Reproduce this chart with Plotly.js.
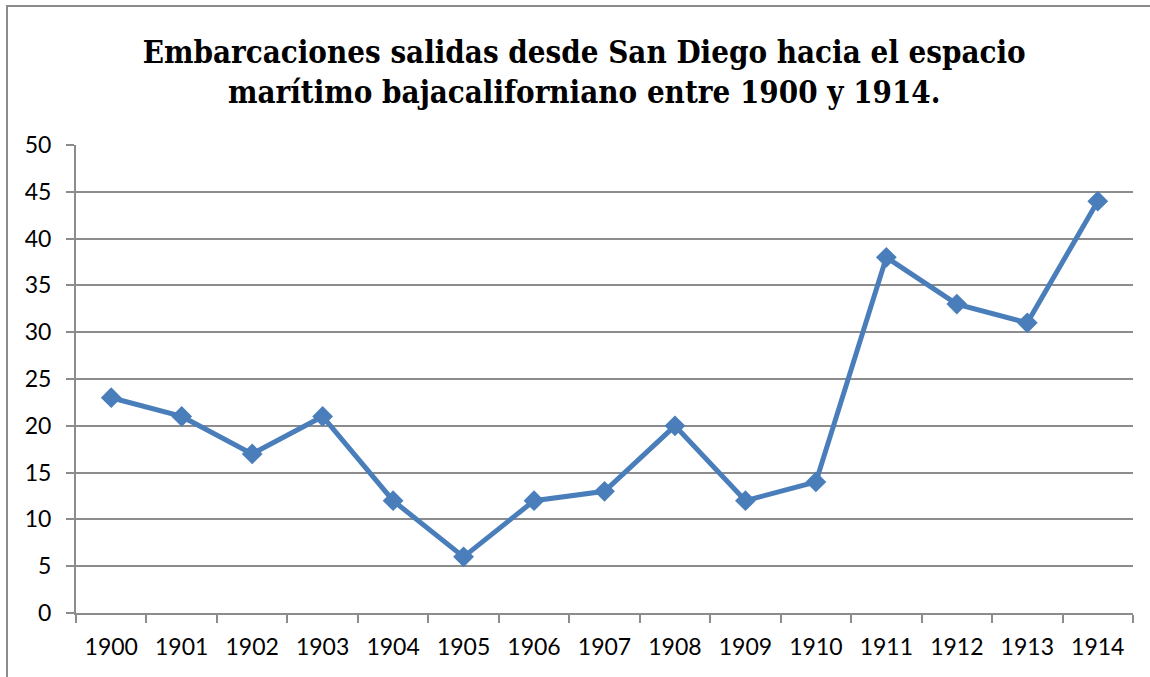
<!DOCTYPE html>
<html>
<head>
<meta charset="utf-8">
<script src="https://cdn.plot.ly/plotly-3.0.1.min.js"></script>
<style>
  html, body { margin: 0; padding: 0; background: #ffffff; overflow: hidden; }
  #frame { position: absolute; left: 6px; top: 5px; width: 1300px; height: 800px; border: 2px solid #8c8c8c; box-sizing: border-box; }
  #chart { position: absolute; left: 0; top: 0; width: 1150px; height: 677px; }
</style>
</head>
<body>
<div id="frame"></div>
<div id="chart"></div>
<script>
const years = ["1900","1901","1902","1903","1904","1905","1906","1907","1908","1909","1910","1911","1912","1913","1914"];
const embarcaciones = [23, 21, 17, 21, 12, 6, 12, 13, 20, 12, 14, 38, 33, 31, 44];
const yTicks = [0, 5, 10, 15, 20, 25, 30, 35, 40, 45, 50];
const titleText = "<b>Embarcaciones salidas desde San Diego hacia el espacio<br>marítimo bajacaliforniano entre 1900 y 1914.</b>";

const trace = {
  type: "scatter",
  mode: "lines+markers",
  x: years,
  y: embarcaciones,
  line: { color: "#4A7EBB", width: 5 },
  marker: { symbol: "diamond", size: 16, color: "#4A7EBB" },
  hoverinfo: "x+y"
};

const layout = {
  width: 1150,
  height: 677,
  paper_bgcolor: "rgba(0,0,0,0)",
  plot_bgcolor: "rgba(0,0,0,0)",
  margin: { l: 76, r: 17, t: 145, b: 64 },
  showlegend: false,
  title: {
    text: titleText,
    x: 0.508,
    xref: "container",
    xanchor: "center",
    y: 0.9075,
    yref: "container",
    yanchor: "middle",
    font: { family: "DejaVu Serif Condensed, DejaVu Serif", size: 31, color: "#000000" }
  },
  xaxis: {
    type: "category",
    range: [-0.5, 14.5],
    tickson: "boundaries",
    ticks: "outside",
    ticklen: 8,
    tickwidth: 2,
    tickcolor: "#8c8c8c",
    showline: true,
    linecolor: "#8c8c8c",
    linewidth: 2,
    showgrid: false,
    tickfont: { family: "Lato", size: 23, color: "#000000" },
    ticklabelstandoff: 12,
    fixedrange: true
  },
  yaxis: {
    range: [0, 50],
    tickvals: yTicks,
    ticktext: yTicks.map(String),
    ticks: "outside",
    ticklen: 8,
    tickwidth: 2,
    tickcolor: "#8c8c8c",
    showline: true,
    linecolor: "#8c8c8c",
    linewidth: 2,
    showgrid: true,
    gridcolor: "#8c8c8c",
    gridwidth: 2,
    zeroline: false,
    tickfont: { family: "Lato", size: 23, color: "#000000" },
    ticklabelstandoff: 10,
    fixedrange: true
  }
};

Plotly.newPlot("chart", [trace], layout, { displayModeBar: false });
</script>
</body>
</html>
